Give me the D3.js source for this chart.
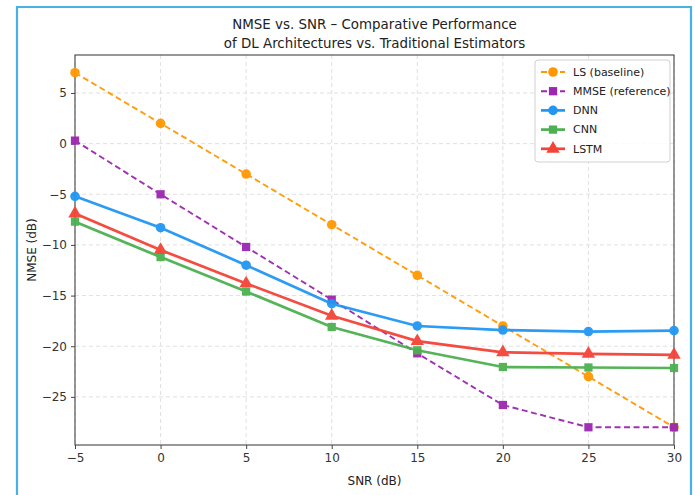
<!DOCTYPE html>
<html>
<head>
<meta charset="utf-8">
<script src="https://cdn.jsdelivr.net/npm/d3@7/dist/d3.min.js"></script>
<style>
  html, body { margin: 0; padding: 0; background: #fff; }
  svg { display: block; font-family: "DejaVu Sans", sans-serif; }
</style>
</head>
<body>
<svg id="chart" width="695" height="495"></svg>
<script>
// SNR points (dB)
const snr = [-5, 0, 5, 10, 15, 20, 25, 30];

// NMSE (dB) per estimator
const lsBaseline   = [7, 2, -3, -8, -13, -18, -23, -28];
const mmseRef      = [0.3, -5, -10.2, -15.4, -20.7, -25.8, -28, -28];
const dnnValues    = [-5.2, -8.3, -12.0, -15.8, -18.0, -18.4, -18.55, -18.45];
const cnnValues    = [-7.7, -11.2, -14.6, -18.1, -20.4, -22.05, -22.1, -22.15];
const lstmValues   = [-6.9, -10.5, -13.8, -17.0, -19.5, -20.6, -20.75, -20.85];

const seriesNames  = ["LS (baseline)", "MMSE (reference)", "DNN", "CNN", "LSTM"];
const xTicks = [-5, 0, 5, 10, 15, 20, 25, 30];
const yTicks = [5, 0, -5, -10, -15, -20, -25];

const series = [
  { name: seriesNames[0], values: lsBaseline, color: "#ff9800", dashed: true,  marker: "circle" },
  { name: seriesNames[1], values: mmseRef,    color: "#9c27b0", dashed: true,  marker: "square" },
  { name: seriesNames[2], values: dnnValues,  color: "#2196f3", dashed: false, marker: "circle" },
  { name: seriesNames[3], values: cnnValues,  color: "#4caf50", dashed: false, marker: "square" },
  { name: seriesNames[4], values: lstmValues, color: "#f44336", dashed: false, marker: "triangle" }
];

const svg = d3.select("#chart");

// outer frame
svg.append("path")
  .attr("d", "M17,495 L17,7 L691,7 L691,495")
  .attr("fill", "none")
  .attr("stroke", "#48b1e4")
  .attr("stroke-width", 2.2);

const plot = { left: 75, right: 674, top: 55, bottom: 445 };

const allVals = series.flatMap(s => s.values);
const yMin = d3.min(allVals), yMax = d3.max(allVals);
const pad = (yMax - yMin) * 0.05;

const x = d3.scaleLinear().domain([-5, 30]).range([plot.left, plot.right]);
const y = d3.scaleLinear().domain([yMin - pad, yMax + pad]).range([plot.bottom, plot.top]);

const g = svg.append("g");

// grid
g.append("g").selectAll("line").data(xTicks).join("line")
  .attr("x1", d => x(d)).attr("x2", d => x(d))
  .attr("y1", plot.top).attr("y2", plot.bottom)
  .attr("stroke", "#dcdcdc").attr("stroke-width", 0.9).attr("stroke-dasharray", "4,3");
g.append("g").selectAll("line").data(yTicks).join("line")
  .attr("x1", plot.left).attr("x2", plot.right)
  .attr("y1", d => y(d)).attr("y2", d => y(d))
  .attr("stroke", "#dcdcdc").attr("stroke-width", 0.9).attr("stroke-dasharray", "4,3");

const fmt = d => d < 0 ? "\u2212" + Math.abs(d) : String(d);

// axes
const xAxis = g.append("g")
  .attr("transform", `translate(0,${plot.bottom})`)
  .call(d3.axisBottom(x).tickValues(xTicks).tickFormat(fmt).tickSizeOuter(0).tickSize(4).tickPadding(4));
const yAxis = g.append("g")
  .attr("transform", `translate(${plot.left},0)`)
  .call(d3.axisLeft(y).tickValues(yTicks).tickFormat(fmt).tickSizeOuter(0).tickSize(4).tickPadding(4));
[xAxis, yAxis].forEach(a => {
  a.select(".domain").remove();
  a.selectAll(".tick line").attr("stroke", "#444").attr("stroke-width", 1);
  a.selectAll(".tick text").attr("fill", "#333").style("font-size", "12px").style("font-family", "DejaVu Sans");
});

// plot frame
g.append("rect")
  .attr("x", plot.left).attr("y", plot.top)
  .attr("width", plot.right - plot.left).attr("height", plot.bottom - plot.top)
  .attr("fill", "none").attr("stroke", "#444").attr("stroke-width", 1.1);

// axis labels
svg.append("text")
  .attr("x", (plot.left + plot.right) / 2).attr("y", 485)
  .attr("text-anchor", "middle").attr("fill", "#222").style("font-size", "12px")
  .text("SNR (dB)");
svg.append("text")
  .attr("transform", `translate(36,${(plot.top + plot.bottom) / 2}) rotate(-90)`)
  .attr("text-anchor", "middle").attr("fill", "#222").style("font-size", "12px")
  .text("NMSE (dB)");

// title
const title = svg.append("text")
  .attr("x", (plot.left + plot.right) / 2).attr("text-anchor", "middle")
  .attr("fill", "#222").style("font-size", "13.4px");
title.append("tspan").attr("x", (plot.left + plot.right) / 2).attr("y", 29)
  .text("NMSE vs. SNR \u2013 Comparative Performance");
title.append("tspan").attr("x", (plot.left + plot.right) / 2).attr("y", 48)
  .text("of DL Architectures vs. Traditional Estimators");

const markerPath = {
  circle: d3.symbol(d3.symbolCircle, 72)(),
  square: d3.symbol(d3.symbolSquare, 68)(),
  triangle: d3.symbol(d3.symbolTriangle, 78)()
};

const line = d3.line().x((d, i) => x(snr[i])).y(d => y(d));

const marks = svg.append("g");
series.forEach(s => {
  const sg = marks.append("g").attr("opacity", 0.95);
  sg.append("path")
    .attr("d", line(s.values))
    .attr("fill", "none")
    .attr("stroke", s.color)
    .attr("stroke-width", s.dashed ? 1.9 : 2.7)
    .attr("stroke-dasharray", s.dashed ? "6,3.5" : null);
  sg.selectAll("path.mk").data(s.values).join("path")
    .attr("class", "mk")
    .attr("d", markerPath[s.marker])
    .attr("transform", (d, i) => `translate(${x(snr[i])},${y(d)})`)
    .attr("fill", s.color);
});

// legend
const lg = svg.append("g").attr("transform", "translate(535,60)");
lg.append("rect").attr("x", 0).attr("y", 0).attr("width", 135).attr("height", 102)
  .attr("rx", 3).attr("fill", "#fff").attr("fill-opacity", 0.85)
  .attr("stroke", "#d0d0d0").attr("stroke-width", 1);
series.forEach((s, i) => {
  const yy = 12 + i * 19.2;
  lg.append("line").attr("x1", 6).attr("x2", 30).attr("y1", yy).attr("y2", yy)
    .attr("stroke", s.color).attr("stroke-width", s.dashed ? 1.9 : 2.7)
    .attr("stroke-dasharray", s.dashed ? "6,3.5" : null);
  lg.append("path").attr("d", markerPath[s.marker])
    .attr("transform", `translate(18,${yy})`).attr("fill", s.color);
  lg.append("text").attr("x", 38).attr("y", yy).attr("dy", "0.35em")
    .attr("fill", "#222").style("font-size", "11px").text(s.name);
});
</script>
</body>
</html>
